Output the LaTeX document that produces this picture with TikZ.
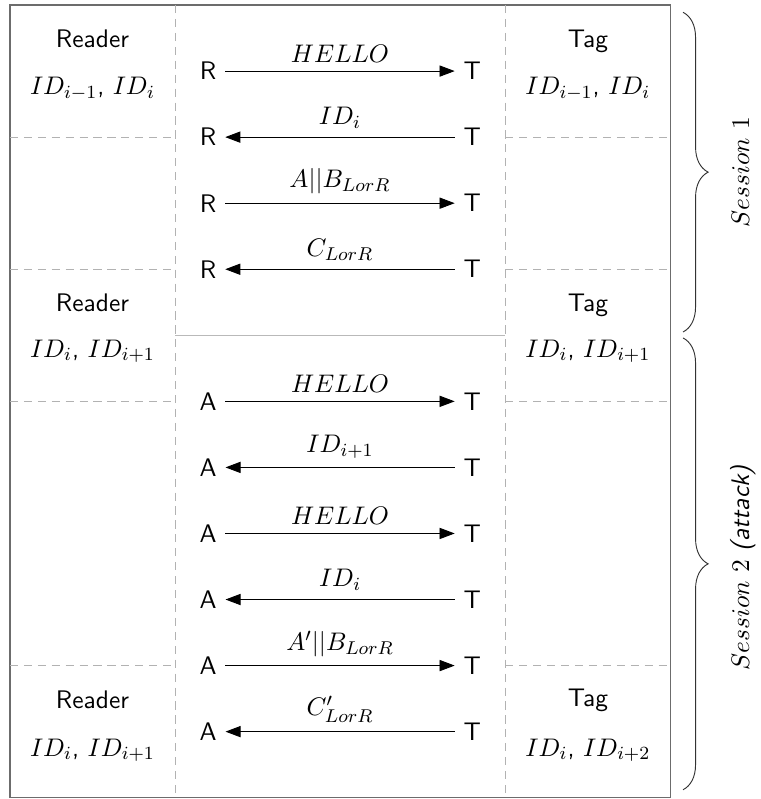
\documentclass[11pt,tikz,border=0pt]{standalone}
\usetikzlibrary{arrows.meta,decorations.pathreplacing}
\begin{document}
\begin{tikzpicture}[font=\sffamily]
    
    \tikzset{party/.style = {anchor=base}}
    \tikzset{msg/.style = {-{Triangle[length=2.3mm,width=1.7mm]}}}
    \tikzset{divider/.style = {gray!60, dash pattern=on 3.5pt off 2.5pt}}
    \tikzset{frame/.style = {gray!85!black, line width=0.6pt}}
    \tikzset{session/.style = {decorate, decoration={brace, amplitude=0.38cm}, black!80}}
    \useasboundingbox (-0.15,0.076) rectangle (11.36,-12.02);
    %frame
    \draw[frame] (0,0) rectangle (10,-12);
    \draw[divider] (2.5,0) -- (2.5,-12);
    \draw[divider] (7.5,0) -- (7.5,-12);
    \foreach \y in {-2,-4,-6,-10} {
        \draw[divider] (0,\y) -- (2.5,\y);
        \draw[divider] (7.5,\y) -- (10,\y);
    }
    \draw[gray!55] (2.5,-5) -- (7.5,-5);
    %reader and tag
    \node[party] (rd1) at (1.25,-0.65) {Reader};
    \node[party] (rid1) at (1.25,-1.36) {$ID_{i-1}$, $ID_i$};
    \node[party] (rd2) at (1.25,-4.64) {Reader};
    \node[party] (rid2) at (1.25,-5.33) {$ID_i$, $ID_{i+1}$};
    \node[party] (rd3) at (1.25,-10.65) {Reader};
    \node[party] (rid3) at (1.25,-11.37) {$ID_i$, $ID_{i+1}$};
    \node[party] (tg1) at (8.75,-0.65) {Tag};
    \node[party] (tid1) at (8.75,-1.36) {$ID_{i-1}$, $ID_i$};
    \node[party] (tg2) at (8.75,-4.64) {Tag};
    \node[party] (tid2) at (8.75,-5.33) {$ID_i$, $ID_{i+1}$};
    \node[party] (tg3) at (8.75,-10.62) {Tag};
    \node[party] (tid3) at (8.75,-11.37) {$ID_i$, $ID_{i+2}$};
    %session 1
    \node (R1) at (3,-1) {R};
    \node (T1) at (7,-1) {T};
    \node (R2) at (3,-2) {R};
    \node (T2) at (7,-2) {T};
    \node (R3) at (3,-3) {R};
    \node (T3) at (7,-3) {T};
    \node (R4) at (3,-4) {R};
    \node (T4) at (7,-4) {T};
    %session 2
    \node (A6) at (3,-6) {A};
    \node (T6) at (7,-6) {T};
    \node (A7) at (3,-7) {A};
    \node (T7) at (7,-7) {T};
    \node (A8) at (3,-8) {A};
    \node (T8) at (7,-8) {T};
    \node (A9) at (3,-9) {A};
    \node (T9) at (7,-9) {T};
    \node (A10) at (3,-10) {A};
    \node (T10) at (7,-10) {T};
    \node (A11) at (3,-11) {A};
    \node (T11) at (7,-11) {T};
    %messages
    \draw[msg] (R1) to node[above] {$HELLO$} (T1);
    \draw[msg] (T2) to node[above] {$ID_i$} (R2);
    \draw[msg] (R3) to node[above] {$A||B_{LorR}$} (T3);
    \draw[msg] (T4) to node[above] {$C_{LorR}$} (R4);
    \draw[msg] (A6) to node[above] {$HELLO$} (T6);
    \draw[msg] (T7) to node[above] {$ID_{i+1}$} (A7);
    \draw[msg] (A8) to node[above] {$HELLO$} (T8);
    \draw[msg] (T9) to node[above] {$ID_i$} (A9);
    \draw[msg] (A10) to node[above] {$A'||B_{LorR}$} (T10);
    \draw[msg] (T11) to node[above] {$C'_{LorR}$} (A11);
    %braces
    \coordinate (s1top) at (10.19,-0.11);
    \coordinate (s1bot) at (10.19,-4.95);
    \coordinate (s2top) at (10.19,-5.04);
    \coordinate (s2bot) at (10.19,-11.88);
    \draw[session] (s1top) -- (s1bot);
    \draw[session] (s2top) -- (s2bot);
    \node[rotate=90, anchor=base] (ses1) at (11.19,-2.53) {$Session\ 1$};
    \node[rotate=90, anchor=base] (ses2) at (11.19,-8.51) {$Session\ 2$ \textit{(attack)}};
    \end{tikzpicture}
\end{document}
